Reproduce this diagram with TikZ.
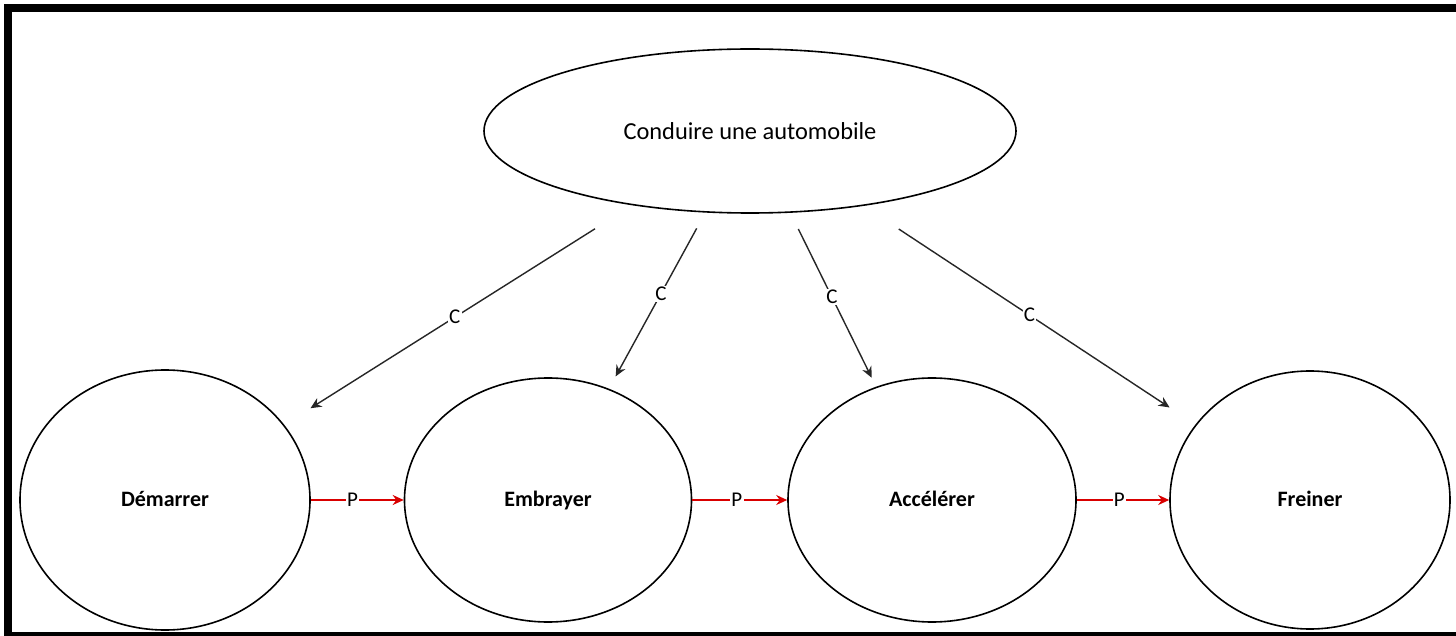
\documentclass[tikz,border=0pt]{standalone}
\usepackage{fontspec}
\setmainfont{Carlito}
\usetikzlibrary{shapes.geometric,arrows.meta}

\begin{document}
\begin{tikzpicture}[x=0.5pt,y=-0.5pt,
  bubble/.style={draw=black, ellipse, inner sep=0pt, line width=0.8pt},
  task/.style={bubble, font=\bfseries\fontsize{11}{13}\selectfont,
    text height=8pt, text depth=2pt},
  callarrow/.style={draw=black!85, line width=0.7pt,
    -{Stealth[length=5.5pt,width=5pt]}},
  precarrow/.style={draw=red!85!black, line width=0.9pt,
    -{Stealth[length=5.5pt,width=5pt]}},
  tag/.style={fill=white, inner sep=0.6pt, text=black,
    font=\fontsize{10.5}{10.5}\selectfont}
]
\useasboundingbox (0,0) rectangle (1456,636);
\fill[white] (0,0) rectangle (1456,636);

% heavy frame on the top, left and bottom sides
\fill[black] (4,4) rectangle (1456,12);
\fill[black] (4,4) rectangle (12,636);
\fill[black] (4,632) rectangle (1456,636);

% main goal
\node[bubble, minimum width=266pt, minimum height=82pt,
      font=\fontsize{12.2}{14}\selectfont] (drive) at (750,131) {Conduire une automobile};

% sub-tasks
\node[task, minimum width=145pt, minimum height=130pt] (start) at (165,500) {Démarrer};
\node[task, minimum width=143.5pt, minimum height=122pt] (clutch) at (548,500) {Embrayer};
\node[task, minimum width=144pt, minimum height=122pt] (speed) at (932,500) {Accélérer};
\node[task, minimum width=140pt, minimum height=129pt] (brake) at (1310,500) {Freiner};

% composition links
\draw[callarrow, shorten <=22pt, shorten >=15.5pt] (drive) -- node[tag, pos=0.51] {C} (start);
\draw[callarrow, shorten <=9pt, shorten >=7pt] (drive) -- node[tag, pos=0.46] {C} (clutch);
\draw[callarrow, shorten <=9pt, shorten >=5pt] (drive) -- node[tag, pos=0.485] {C} (speed);
\draw[callarrow, shorten <=21pt, shorten >=15.5pt] (drive) -- node[tag, pos=0.5] {C} (brake);

% precedence links
\draw[precarrow] (start.east) -- node[tag, pos=0.45] {P} (clutch.west);
\draw[precarrow] (clutch.east) -- node[tag, pos=0.47] {P} (speed.west);
\draw[precarrow] (speed.east) -- node[tag, pos=0.46] {P} (brake.west);
\end{tikzpicture}
\end{document}
